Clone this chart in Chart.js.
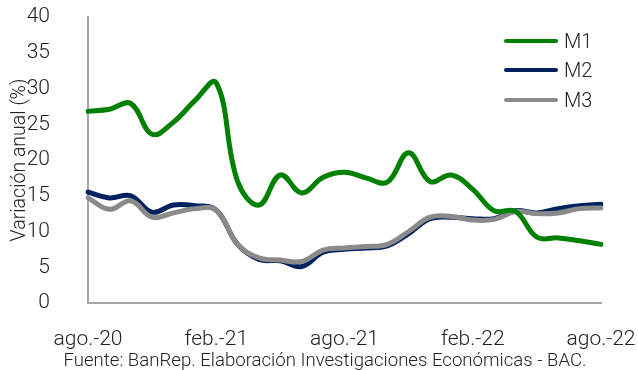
<!DOCTYPE html>
<html>
<head>
<meta charset="utf-8">
<script src="https://cdn.jsdelivr.net/npm/chart.js@4.4.0/dist/chart.umd.min.js"></script>
<style>
  html, body { margin: 0; padding: 0; background: #fff; }
  #wrap { position: relative; width: 638px; height: 370px; }
  #legend { position: absolute; left: 504px; top: 26px; font-family: Roboto, "Liberation Sans", sans-serif; font-weight: 300; font-size: 20px; color: #222; }
  #legend .item { display: flex; align-items: center; height: 29.5px; }
  #legend .swatch { width: 54px; height: 4px; border-radius: 2px; margin-right: 6px; }
</style>
</head>
<body>
<div id="wrap">
  <canvas id="chart" width="638" height="370"></canvas>
  <div id="legend"></div>
</div>
<script>
'use strict';

// monthly annual growth of money aggregates, ago.-20 .. ago.-22
const months = [
  'ago.-20', 'sep.-20', 'oct.-20', 'nov.-20', 'dic.-20', 'ene.-21', 'feb.-21',
  'mar.-21', 'abr.-21', 'may.-21', 'jun.-21', 'jul.-21', 'ago.-21', 'sep.-21',
  'oct.-21', 'nov.-21', 'dic.-21', 'ene.-22', 'feb.-22', 'mar.-22', 'abr.-22',
  'may.-22', 'jun.-22', 'jul.-22', 'ago.-22'
];
const m1 = [26.8, 27.1, 27.9, 23.6, 25.3, 28.3, 30.8, 17.0, 13.7, 17.9, 15.4, 17.6, 18.3,
            17.5, 16.9, 21.0, 17.0, 17.9, 15.9, 12.9, 12.8, 9.2, 9.1, 8.7, 8.2];
const m2 = [15.5, 14.7, 15.0, 12.7, 13.7, 13.6, 13.0, 8.2, 6.1, 5.9, 5.1, 7.1, 7.5,
            7.7, 8.0, 9.7, 11.8, 12.0, 11.8, 11.8, 12.9, 12.6, 13.2, 13.6, 13.8];
const m3 = [14.7, 13.1, 14.3, 12.0, 12.6, 13.2, 13.0, 8.2, 6.3, 6.0, 5.8, 7.4, 7.7,
            7.9, 8.2, 10.0, 12.0, 12.1, 11.6, 11.7, 12.8, 12.5, 12.6, 13.2, 13.3];
const seriesNames = ['M1', 'M2', 'M3'];
const seriesColors = ['#008000', '#002060', '#8a8a8a'];
const yTicks = [0, 5, 10, 15, 20, 25, 30, 35, 40];
const shownMonths = ['ago.-20', 'feb.-21', 'ago.-21', 'feb.-22', 'ago.-22'];

const axisTitle = 'Variación anual (%)';
const footerText = 'Fuente: BanRep. Elaboración Investigaciones Económicas - BAC.';

const FONT = 'Roboto, "Liberation Sans", sans-serif';
const TEXT = '#222';

// source note under the x axis
const footerPlugin = {
  id: 'footer',
  afterDraw(chart) {
    const ctx = chart.ctx;
    ctx.save();
    ctx.font = '300 18.6px ' + FONT;
    ctx.fillStyle = TEXT;
    ctx.textAlign = 'center';
    ctx.textBaseline = 'alphabetic';
    ctx.fillText(footerText, 325, 366);
    ctx.restore();
  }
};

const series = [m1, m2, m3];
const datasets = series.map((values, i) => ({
  label: seriesNames[i],
  data: values,
  borderColor: seriesColors[i],
  backgroundColor: seriesColors[i],
  borderWidth: 5,
  borderCapStyle: 'round',
  borderJoinStyle: 'round',
  pointRadius: 0,
  tension: 0.4,
  // green on top, gray over navy
  order: [0, 2, 1][i]
}));

// tick padding would otherwise grow the chart-area margins
function noEdgePadding(scale) {
  scale.paddingTop = 0;
  scale.paddingBottom = 0;
  scale.paddingLeft = 0;
  scale.paddingRight = 0;
}

const chart = new Chart(document.getElementById('chart'), {
  type: 'line',
  data: { labels: months, datasets: datasets },
  plugins: [footerPlugin],
  options: {
    responsive: false,
    animation: false,
    layout: { padding: { top: 17, right: 37, bottom: 0, left: 0 } },
    plugins: {
      legend: { display: false },
      tooltip: { enabled: false }
    },
    scales: {
      x: {
        grid: { display: false },
        border: { color: '#a6a6a6', width: 2 },
        ticks: {
          autoSkip: false,
          maxRotation: 0,
          minRotation: 0,
          padding: 16,
          color: TEXT,
          font: { family: FONT, size: 21, weight: 300 },
          callback: function (value, index) {
            const lab = months[index];
            return shownMonths.includes(lab) ? lab : '';
          }
        },
        afterFit: function (scale) {
          scale.height = 67;
          noEdgePadding(scale);
        }
      },
      y: {
        min: yTicks[0],
        max: yTicks[yTicks.length - 1],
        grid: { display: false },
        border: { color: '#a6a6a6', width: 2 },
        afterBuildTicks: function (scale) {
          scale.ticks = yTicks.map(v => ({ value: v }));
        },
        ticks: {
          padding: 30,
          color: TEXT,
          font: { family: FONT, size: 21, weight: 300 }
        },
        title: {
          display: true,
          text: axisTitle,
          color: TEXT,
          font: { family: FONT, size: 19.5, weight: 300 },
          padding: { top: 8, bottom: 0 }
        },
        afterFit: function (scale) {
          scale.width = 88;
          noEdgePadding(scale);
        }
      }
    }
  }
});

// legend stacked in the upper right of the plot
const legendBox = document.getElementById('legend');
chart.data.datasets.forEach(ds => {
  const item = document.createElement('div');
  item.className = 'item';
  const sw = document.createElement('span');
  sw.className = 'swatch';
  sw.style.background = ds.borderColor;
  const txt = document.createElement('span');
  txt.textContent = ds.label;
  item.appendChild(sw);
  item.appendChild(txt);
  legendBox.appendChild(item);
});
</script>
</body>
</html>
